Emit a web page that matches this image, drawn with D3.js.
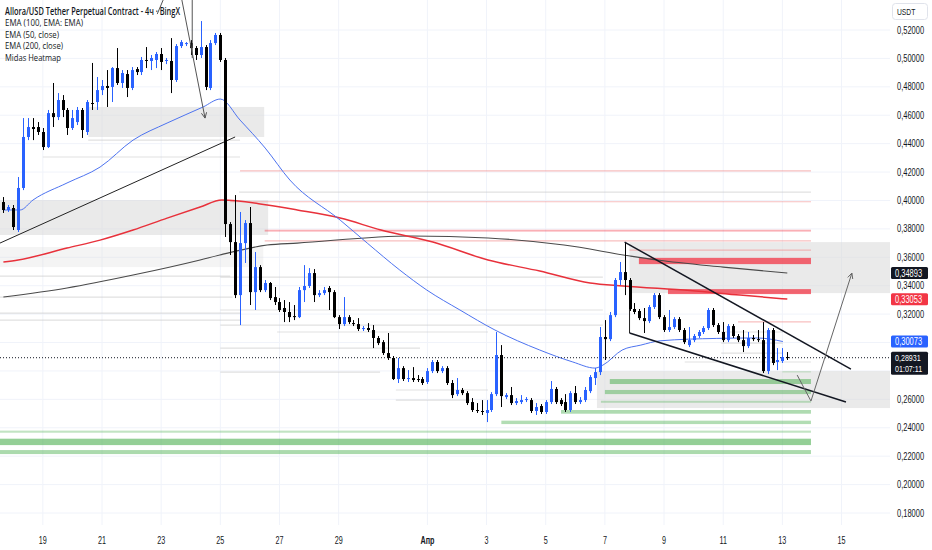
<html>
<head>
<script src="https://cdnjs.cloudflare.com/ajax/libs/d3/7.9.0/d3.min.js"></script>
<style>
  body { margin: 0; background: #fff; }
  text { font-family: 'Open Sans', sans-serif; }
  .axis text { font-family: 'Liberation Sans', Arial, sans-serif; }
</style>
</head>
<body onload="main()"></body>
<script>
// 4h candles, first one opens Mar 17 16:00
const t0 = Date.UTC(2025, 2, 17, 16)
const H4 = 4 * 3600 * 1000

const opens = [
  .3989, .3933, .3947, .3792, .4088, .4447, .4517, .4517, .4482, .4376,
  .4615, .4587, .4707, .4637, .4510, .4552, .4637, .4482, .4686, .4693,
  .4777, .4806, .4799, .4932, .4827, .4890, .4792, .4925, .4904, .4989,
  .4982, .4989, .5031, .4982, .4982, .4848, .5087, .5101, .5108, .5073,
  .5024, .5080, .4792, .5108, .5165, .4989, .3834, .3707, .3334, .3700,
  .3841, .3355, .3531, .3369, .3419, .3320, .3285, .3243, .3215, .3186,
  .3179, .3369, .3398, .3489, .3334, .3348, .3384, .3355, .3179, .3130,
  .3179, .3137, .3130, .3095, .3102, .3088, .3032, .3003, .2926, .2891,
  .2743, .2820, .2743, .2750, .2743, .2743, .2722, .2799, .2863, .2799,
  .2820, .2715, .2637, .2666, .2644, .2581, .2525, .2518, .2504, .2525,
  .2637, .2912, .2616, .2630, .2574, .2581, .2595, .2595, .2518, .2553,
  .2511, .2581, .2673, .2595, .2581, .2525, .2644, .2581, .2595, .2658,
  .2750, .2792, .3039, .3024, .3193, .3440, .3496, .3440, .3236, .3222,
  .3172, .3151, .3250, .3334, .3179, .3088, .3109, .3165, .3088, .2982,
  .3017, .3046, .3074, .3102, .3229, .3123, .3074, .3017, .3116, .3046,
  .3017, .2975, .3032, .3024, .3017, .2799, .3088, .2863, .2870, .2898
]
const highs = [
  .4024, .3968, .3968, .4165, .4580, .4580, .4580, .4552, .4510, .4637,
  .4827, .4756, .4742, .4651, .4637, .4658, .4651, .4707, .4968, .4869,
  .4848, .4918, .4939, .5073, .4918, .4918, .4939, .4939, .5010, .5080,
  .5024, .5045, .5073, .5003, .5143, .5101, .5129, .5115, .5129, .5087,
  .5263, .5094, .5129, .5179, .5179, .5003, .3848, .4038, .3919, .3862,
  .3954, .3637, .3545, .3440, .3426, .3391, .3313, .3299, .3285, .3264,
  .3391, .3545, .3524, .3517, .3369, .3391, .3398, .3369, .3193, .3320,
  .3193, .3158, .3172, .3116, .3137, .3123, .3046, .3017, .3067, .2905,
  .2891, .2834, .2806, .2827, .2771, .2757, .2820, .2877, .2877, .2834,
  .2834, .2736, .2750, .2680, .2658, .2609, .2574, .2595, .2595, .2651,
  .3074, .2982, .2644, .2687, .2609, .2630, .2616, .2609, .2574, .2567,
  .2595, .2729, .2687, .2609, .2637, .2658, .2694, .2616, .2687, .2771,
  .2820, .3109, .3158, .3215, .3454, .3567, .3707, .3454, .3278, .3236,
  .3243, .3264, .3348, .3348, .3193, .3229, .3179, .3179, .3102, .3109,
  .3060, .3088, .3116, .3243, .3243, .3137, .3144, .3130, .3130, .3060,
  .3088, .3074, .3053, .3088, .3144, .3102, .3102, .2961, .2961, .2933
]
const lows = [
  .3912, .3919, .3792, .3778, .4073, .4425, .4425, .4461, .4355, .4369,
  .4517, .4566, .4587, .4461, .4496, .4531, .4440, .4461, .4637, .4637,
  .4742, .4658, .4693, .4813, .4792, .4728, .4777, .4883, .4883, .4932,
  .4918, .4932, .4918, .4960, .4756, .4834, .5073, .5087, .5024, .4989,
  .5003, .4777, .4777, .5094, .4975, .3743, .3616, .3313, .3123, .3560,
  .3264, .3229, .3355, .3355, .3299, .3264, .3215, .3144, .3144, .3158,
  .3172, .3285, .3384, .3285, .3320, .3334, .3229, .3172, .3095, .3116,
  .3130, .3116, .3081, .3081, .3074, .2961, .2982, .2912, .2877, .2736,
  .2715, .2729, .2722, .2722, .2722, .2701, .2708, .2785, .2785, .2785,
  .2701, .2609, .2623, .2630, .2560, .2511, .2504, .2490, .2440, .2511,
  .2623, .2546, .2602, .2560, .2560, .2567, .2581, .2504, .2490, .2497,
  .2497, .2567, .2567, .2553, .2511, .2511, .2567, .2567, .2581, .2644,
  .2701, .2771, .2877, .3010, .3179, .3405, .3334, .3222, .3200, .3158,
  .3067, .3137, .3236, .3165, .3074, .3074, .3095, .3074, .2989, .2968,
  .3003, .3032, .3060, .3088, .3109, .3060, .3003, .3003, .3032, .3003,
  .2933, .2961, .3010, .3003, .2785, .2778, .2841, .2806, .2856, .2877
]
const closes = [
  .3933, .3954, .3813, .4088, .4447, .4517, .4503, .4482, .4376, .4615,
  .4587, .4707, .4637, .4510, .4580, .4637, .4496, .4693, .4679, .4777,
  .4806, .4792, .4932, .4827, .4897, .4792, .4918, .4904, .4989, .4982,
  .5003, .5031, .4975, .4989, .4848, .5087, .5115, .5108, .5073, .5024,
  .5080, .4799, .5108, .5165, .4989, .3834, .3707, .3334, .3700, .3841,
  .3355, .3531, .3369, .3419, .3313, .3285, .3229, .3215, .3179, .3179,
  .3369, .3398, .3489, .3334, .3348, .3369, .3355, .3179, .3130, .3179,
  .3144, .3130, .3095, .3102, .3088, .3032, .2996, .2926, .2891, .2743,
  .2820, .2743, .2750, .2736, .2736, .2715, .2799, .2863, .2799, .2820,
  .2715, .2630, .2666, .2644, .2574, .2525, .2518, .2511, .2525, .2637,
  .2912, .2623, .2630, .2574, .2588, .2595, .2602, .2518, .2546, .2511,
  .2581, .2673, .2581, .2567, .2525, .2644, .2581, .2595, .2666, .2757,
  .2792, .3039, .3024, .3193, .3440, .3496, .3440, .3236, .3215, .3172,
  .3151, .3250, .3334, .3179, .3088, .3109, .3165, .3088, .3003, .3017,
  .3046, .3074, .3102, .3229, .3123, .3074, .3017, .3116, .3046, .3017,
  .2975, .3032, .3024, .3017, .2799, .3088, .2856, .2877, .2898, .2893
]

// moving averages, [candle index, price]
const ema50 = [
  [0, .3933], [3.4, .3933], [6, .4003], [12.9, .4123], [19.6, .4235], [26.3, .4425],
  [33.2, .4545], [40.5, .4658], [44, .4714], [48, .4566], [53.1, .4369], [58.1, .4144],
  [68.3, .3862], [73.8, .3700], [80.4, .3510], [85.9, .3369], [92.6, .3229], [99.7, .3088],
  [108.8, .2947], [115.5, .2863], [120, .2820], [121.6, .2841], [125.5, .2947], [129.3, .2982],
  [133.2, .3012], [144.7, .3029], [152.9, .3032], [158.1, .3007]
]
const ema100 = [
  [0, .3567], [3, .3581], [12.9, .3665], [19.6, .3721], [26.3, .3792], [33.2, .3876],
  [39.9, .3954], [44.3, .4003], [53.5, .3968], [59.6, .3933], [68.3, .3876], [76.6, .3792],
  [87.1, .3707], [98.3, .3581], [108.8, .3503], [119, .3419], [125.7, .3398], [139.3, .3366],
  [149.4, .3334], [159, .3306]
]
const ema200 = [
  [0, .3320], [12.9, .3384], [26.3, .3475], [39.9, .3581], [43.9, .3616], [53.5, .3686],
  [59.6, .3700], [82.7, .3750], [98.3, .3736], [113.7, .3686], [127.1, .3609], [132.6, .3581],
  [146, .3531], [159, .3489]
]

// heatmap: [from index, to index, top price, bottom price]
const grayZones = [
  [17.2, 52.9, .4658, .4447],
  [-1, 53.7, .4003, .3757],
  [127, 182, .3707, .3348],
  [120.4, 182, .2799, .2539]
]
const paleZones = [
  [-1, 52.7, .3672, .3531]
]
const redBars = [
  [128.9, 163.8, .3596, .3552],
  [134.8, 163.8, .3376, .3341]
]
const pinkBars = [
  [53, 163.8, .3794, .3781]
]
const greenBars = [
  [123, 163.8, .2743, .2708],
  [122, 163.8, .2666, .2637],
  [121.2, 163.8, .2590, .2576],
  [113.1, 163.8, .2525, .2499],
  [101, 163.8, .2450, .2426],
  [-1, 163.8, .2380, .2365],
  [-1, 163.8, .2323, .2278],
  [-1, 163.8, .2243, .2215],
  [158, 163.8, .2797, .2792]
]
// thin levels: [from index, to index, price]
const redLevels = [
  [48, 163.8, .4209], [46, 163.8, .3991], [53, 163.8, .3716],
  [127, 163.8, .3651], [149, 163.8, .3146]
]
const grayLevels = [
  [17.2, 48, .4425], [8, 48, .4306], [-1, 46, .3468], [-1, 46.5, .3320],
  [-1, 48, .3207], [-1, 48, .3158], [47.8, 163.8, .4059], [44, 121.6, .3461],
  [44, 121.6, .3229], [44, 121.6, .3123], [55.5, 98.3, .3074], [44, 84.5, .2961],
  [44, 76.4, .2792], [79.6, 98.3, .2666], [79.6, 94.6, .2595], [145.6, 158.1, .3074],
  [145.6, 158.1, .2996], [145.6, 158.1, .2926], [138.2, 163.8, .2863]
]

// drawings, [candle index, price]
const leftTrend = [[-0.7, .3700], [47, .4447]]
const channelTop = [[126, .3707], [171.9, .2813]]
const channelBottom = [[127, .3067], [170.9, .2581]]
const channelSide = [[127, .3440], [127, .3067]]
const topArrow = [[36.2, .5411], [40.9, .4580]]
const topVertical = [[38.3, .5411], [38.3, .5003]]
const topSlash = [[32.4, .5411], [31.2, .5312]]
const forecast = [[161, .2771], [163.8, .2588], [172.1, .3489]]

const tickDates = [
  Date.UTC(2025, 2, 19), Date.UTC(2025, 2, 21), Date.UTC(2025, 2, 23), Date.UTC(2025, 2, 25),
  Date.UTC(2025, 2, 27), Date.UTC(2025, 2, 29), Date.UTC(2025, 3, 1), Date.UTC(2025, 3, 3),
  Date.UTC(2025, 3, 5), Date.UTC(2025, 3, 7), Date.UTC(2025, 3, 9), Date.UTC(2025, 3, 11),
  Date.UTC(2025, 3, 13), Date.UTC(2025, 3, 15)
]
const tickLabels = ['19', '21', '23', '25', '27', '29', 'Апр', '3', '5', '7', '9', '11', '13', '15']

const legend = ['Allora/USD Tether Perpetual Contract - 4ч · BingX', 'EMA (100, EMA: EMA)', 'EMA (50, close)', 'EMA (200, close)', 'Midas Heatmap']
const legendWidths = [175, 78, 54, 58, 56]

const markers = [
  { v: 0.34893, color: '#131722' },
  { v: 0.33053, color: '#f23645' },
  { v: 0.30073, color: '#2962ff' }
]
const lastPrice = 0.28931
const countdown = '01:07:11'

function label(g, x, y, s, { size = 10, anchor = 'start', fill = '#131722', weight = 400, sx = 0.75 } = {}) {
  return g.append('text')
    .attr('transform', `translate(${x},${y}) scale(${sx},1)`)
    .attr('text-anchor', anchor)
    .attr('font-size', size)
    .attr('font-weight', weight)
    .attr('fill', fill)
    .text(s)
}

function arrowHead(g, a, b, color) {
  const ang = Math.atan2(b[1] - a[1], b[0] - a[0])
  const len = 6
  const pts = [ang + Math.PI - 0.45, ang + Math.PI + 0.45].map(t => [b[0] + len * Math.cos(t), b[1] + len * Math.sin(t)])
  g.append('path')
    .attr('d', `M${pts[0]}L${b}L${pts[1]}`)
    .attr('fill', 'none')
    .attr('stroke', color)
    .attr('stroke-width', 1)
}

function main() {
  const width = 932
  const height = 550
  const plotW = 890
  const plotH = 525

  const x = d3.scaleUtc()
    .domain([new Date(t0), new Date(t0 + 159 * H4)])
    .range([3.4, 787.3])
  const y = d3.scaleLinear()
    .domain([0.18, 0.52])
    .range([513, 30])
  const xi = i => x(new Date(t0 + i * H4))

  const svg = d3.select('body')
    .append('svg')
    .attr('width', width)
    .attr('height', height)

  svg.append('defs').append('clipPath').attr('id', 'plot')
    .append('rect').attr('width', plotW).attr('height', plotH)

  const plot = svg.append('g').attr('clip-path', 'url(#plot)')

  // grid
  const priceTicks = y.ticks(18)
  plot.append('g').selectAll('line')
    .data(priceTicks)
    .enter()
    .append('line')
    .attr('x1', 0).attr('x2', plotW)
    .attr('y1', d => y(d)).attr('y2', d => y(d))
    .attr('stroke', '#f0f3fa')
  plot.append('g').selectAll('line')
    .data(tickDates)
    .enter()
    .append('line')
    .attr('x1', d => x(new Date(d))).attr('x2', d => x(new Date(d)))
    .attr('y1', 0).attr('y2', plotH)
    .attr('stroke', '#f0f3fa')

  // heatmap
  const band = (data, fill, opacity) => plot.append('g').selectAll('rect')
    .data(data)
    .enter()
    .append('rect')
    .attr('x', d => xi(d[0]))
    .attr('width', d => xi(d[1]) - xi(d[0]))
    .attr('y', d => y(d[2]))
    .attr('height', d => Math.max(1, y(d[3]) - y(d[2])))
    .attr('fill', fill)
    .attr('fill-opacity', opacity)
  band(grayZones, '#d9d9d9', 0.55)
  band(paleZones, '#d9d9d9', 0.3)

  const level = (data, color, w, op) => plot.append('g').selectAll('line')
    .data(data)
    .enter()
    .append('line')
    .attr('x1', d => xi(d[0])).attr('x2', d => xi(d[1]))
    .attr('y1', d => y(d[2])).attr('y2', d => y(d[2]))
    .attr('stroke', color)
    .attr('stroke-width', w)
    .attr('stroke-opacity', op)
  level(grayLevels, '#c8c8c8', 1.2, 0.55)
  level(redLevels, '#f28b8b', 1.2, 0.55)

  band(redBars, '#f23645', 0.75)
  band(pinkBars, '#f23645', 0.4)
  const greenOpacity = d3.scaleLinear().domain([1.5, 6]).range([0.3, 0.6]).clamp(true)
  plot.append('g').selectAll('rect')
    .data(greenBars)
    .enter()
    .append('rect')
    .attr('x', d => xi(d[0]))
    .attr('width', d => xi(d[1]) - xi(d[0]))
    .attr('y', d => y(d[2]))
    .attr('height', d => Math.max(1, y(d[3]) - y(d[2])))
    .attr('fill', '#4caf50')
    .attr('fill-opacity', d => greenOpacity(y(d[3]) - y(d[2])))

  // moving averages
  const curve = d3.line().x(d => xi(d[0])).y(d => y(d[1])).curve(d3.curveMonotoneX)
  const straight = d3.line().x(d => xi(d[0])).y(d => y(d[1]))
  plot.append('path').attr('d', curve(ema200)).attr('fill', 'none').attr('stroke', '#4a4a4a').attr('stroke-width', 1.1)
  plot.append('path').attr('d', curve(ema100)).attr('fill', 'none').attr('stroke', '#e8313b').attr('stroke-width', 1.5)
  plot.append('path').attr('d', curve(ema50)).attr('fill', 'none').attr('stroke', '#4d73f0').attr('stroke-width', 1)

  plot.append('path').attr('d', straight(leftTrend)).attr('stroke', '#222').attr('stroke-width', 1)
  plot.append('path').attr('d', straight(channelSide)).attr('stroke', '#222').attr('stroke-width', 1)

  // last price
  plot.append('line')
    .attr('x1', 0).attr('x2', plotW)
    .attr('y1', y(lastPrice)).attr('y2', y(lastPrice))
    .attr('stroke', '#131722')
    .attr('stroke-dasharray', '1,2')

  // candles
  const candles = opens.map((o, i) => ({ t: new Date(t0 + i * H4), o, h: highs[i], l: lows[i], c: closes[i] }))
  const colorOf = d => d.c >= d.o ? '#2962ff' : '#000000'
  const cg = plot.append('g')
  cg.selectAll('.wick')
    .data(candles)
    .enter()
    .append('line')
    .classed('wick', true)
    .attr('x1', d => Math.round(x(d.t)) + 0.5).attr('x2', d => Math.round(x(d.t)) + 0.5)
    .attr('y1', d => y(d.h)).attr('y2', d => y(d.l))
    .attr('stroke', colorOf)
    .attr('stroke-width', 1)
  cg.selectAll('.body')
    .data(candles)
    .enter()
    .append('rect')
    .classed('body', true)
    .attr('x', d => Math.round(x(d.t)) - 1)
    .attr('width', 3)
    .attr('y', d => y(Math.max(d.o, d.c)))
    .attr('height', d => Math.max(1, Math.abs(y(d.o) - y(d.c))))
    .attr('fill', colorOf)

  // drawings
  plot.append('path').attr('d', straight(channelTop)).attr('stroke', '#131722').attr('stroke-width', 1.5)
  plot.append('path').attr('d', straight(channelBottom)).attr('stroke', '#131722').attr('stroke-width', 1.5)
  plot.append('path').attr('d', straight(topArrow)).attr('stroke', '#555').attr('stroke-width', 1)
  plot.append('path').attr('d', straight(topVertical)).attr('stroke', '#555').attr('stroke-width', 1)
  plot.append('path').attr('d', straight(topSlash)).attr('stroke', '#555').attr('stroke-width', 1)
  plot.append('path').attr('d', straight(forecast)).attr('fill', 'none').attr('stroke', '#666').attr('stroke-width', 1)
  const px = d => [xi(d[0]), y(d[1])]
  arrowHead(plot, px(topArrow[0]), px(topArrow[1]), '#555')
  arrowHead(plot, px(forecast[1]), px(forecast[2]), '#666')

  // legend
  const lg = svg.append('g')
  legend.forEach((s, i) => {
    lg.append('text')
      .attr('x', 5)
      .attr('y', 15 + i * 11.4)
      .attr('font-size', i === 0 ? 10 : 9.6)
      .attr('font-weight', i === 0 ? 600 : 400)
      .attr('fill', '#131722')
      .attr('textLength', legendWidths[i])
      .attr('lengthAdjust', 'spacingAndGlyphs')
      .text(s)
  })

  // price axis
  const fmt = v => d3.format('.5f')(v).replace('.', ',')
  const ax = svg.append('g').classed('axis', true)
  const lastY = y(lastPrice)
  priceTicks
    .filter(v => markers.every(m => Math.abs(y(m.v) - y(v)) > 9) && (y(v) < lastY - 8 || y(v) > lastY + 21))
    .forEach(v => label(ax, 897, y(v) + 3.5, fmt(v)))

  ax.append('rect').attr('x', 892.5).attr('y', 3.5).attr('width', 35).attr('height', 16).attr('rx', 3)
    .attr('fill', '#fff').attr('stroke', '#e0e3eb')
  label(ax, 897, 15, 'USDT', { size: 9 })

  markers.forEach(m => {
    ax.append('rect').attr('x', 891).attr('y', y(m.v) - 6).attr('width', 37).attr('height', 12).attr('rx', 1.5).attr('fill', m.color)
    label(ax, 895, y(m.v) + 3.5, fmt(m.v), { fill: '#fff' })
  })
  ax.append('rect').attr('x', 891).attr('y', lastY - 6).attr('width', 37).attr('height', 23).attr('rx', 1.5).attr('fill', '#131722')
  label(ax, 895, lastY + 3.3, fmt(lastPrice), { fill: '#fff', size: 9.5 })
  label(ax, 895, lastY + 14.6, countdown, { fill: '#fff', size: 9.5 })

  // time axis
  const tx = svg.append('g').classed('axis', true)
  tickDates.forEach((d, i) => {
    label(tx, x(new Date(d)), 543.5, tickLabels[i], { anchor: 'middle', size: 10, sx: 0.72, weight: i === 6 ? 700 : 400 })
  })
}
</script>
</html>
